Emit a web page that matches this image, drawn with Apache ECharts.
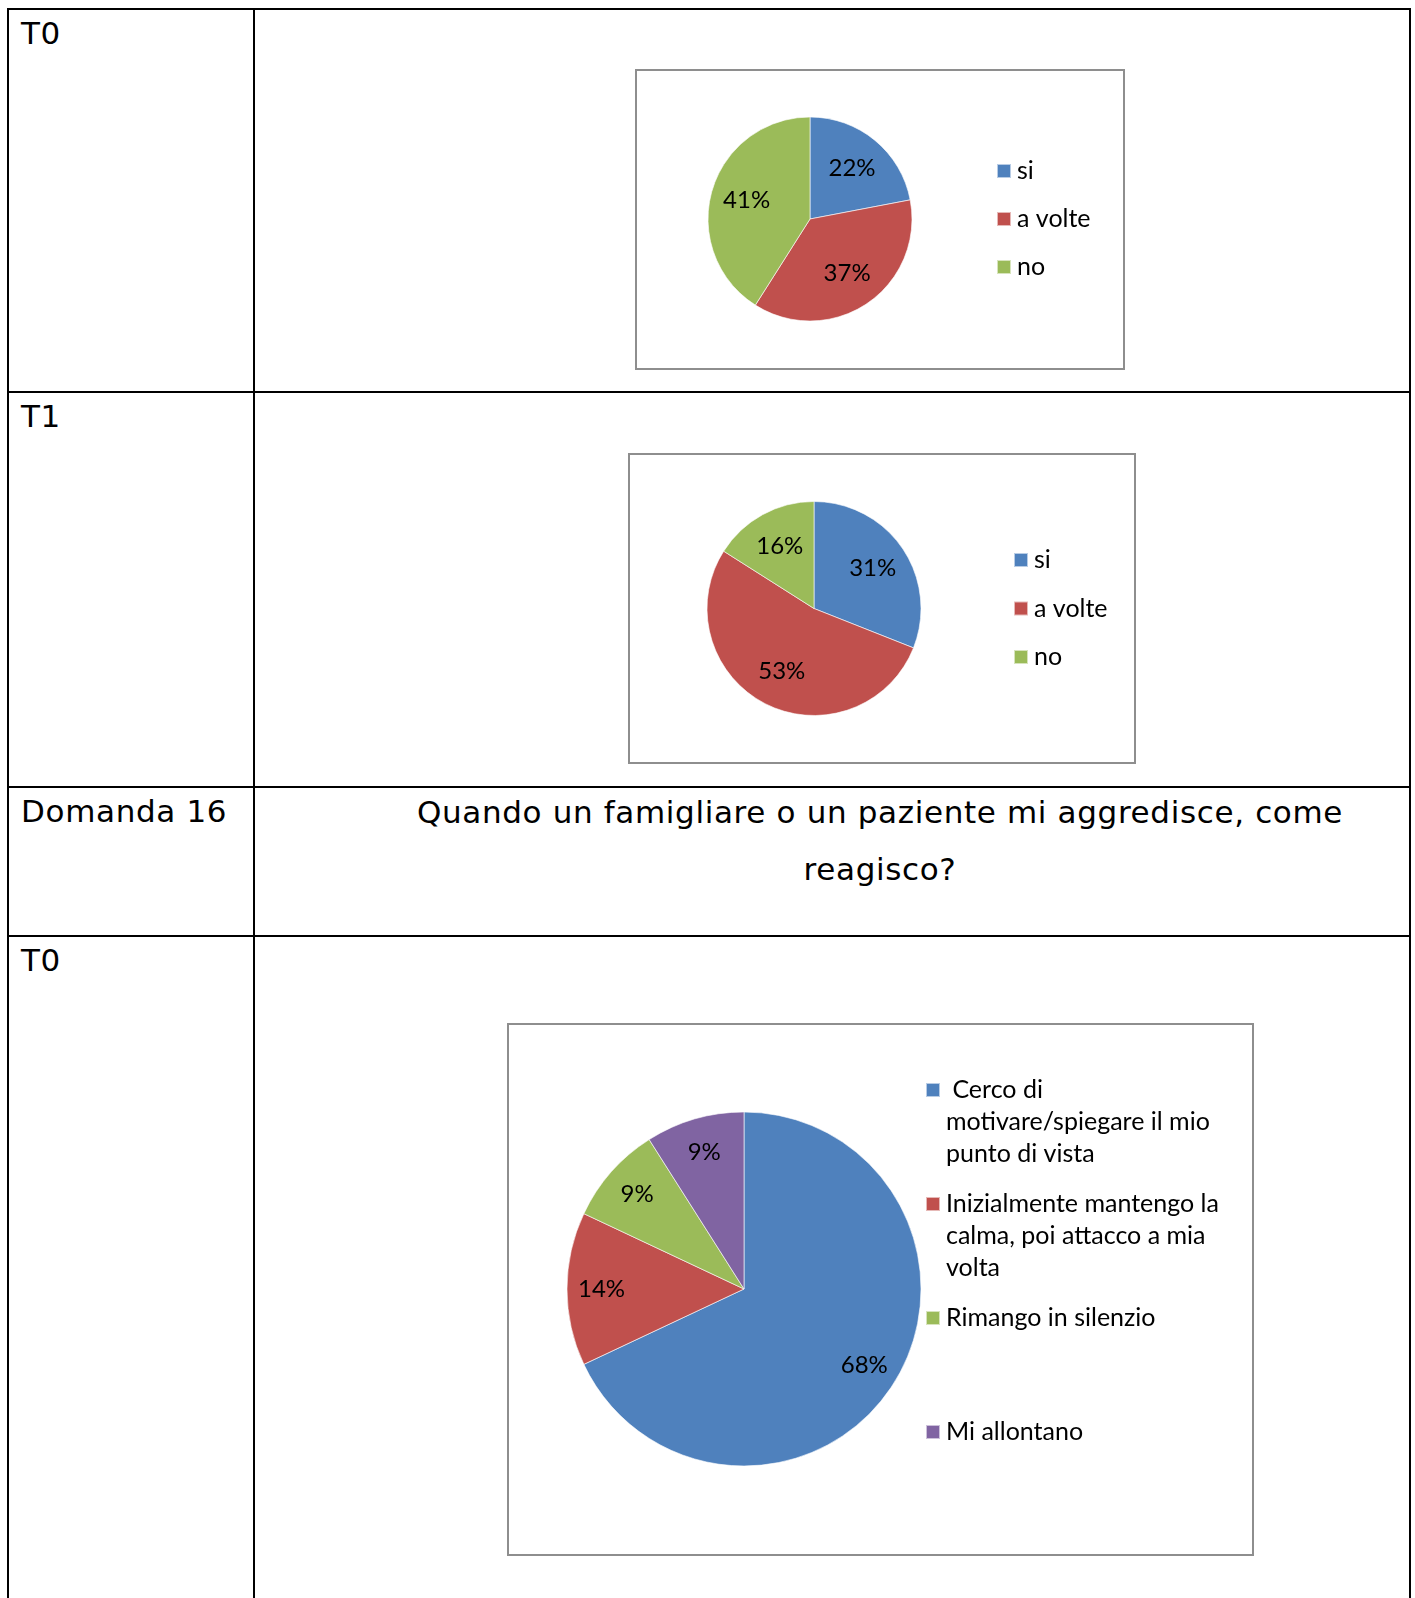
<!DOCTYPE html>
<html>
<head>
<meta charset="utf-8">
<title>Domanda 16</title>
<script src="https://cdn.jsdelivr.net/npm/echarts@6/dist/echarts.min.js"></script>
<style>
  body { margin: 0; background: #fff; }
  #page { position: relative; width: 1415px; height: 1598px; overflow: hidden; }
  .ln { position: absolute; background: #000; }
  .cell { position: absolute; font-family: "DejaVu Sans", Verdana, sans-serif; font-size: 31px; line-height: 31px; letter-spacing: 0.65px; color: #000; white-space: nowrap; }
  .question { text-align: center; line-height: 57px; }
  .chart { position: absolute; }
  .frame { position: absolute; border: 2px solid #8e8e8e; box-sizing: border-box; pointer-events: none; }
</style>
</head>
<body>
<div id="page">
  <!-- griglia della tabella -->
  <div class="ln" style="left:7px;top:8px;width:1404px;height:2px"></div>
  <div class="ln" style="left:7px;top:391px;width:1404px;height:2px"></div>
  <div class="ln" style="left:7px;top:786px;width:1404px;height:2px"></div>
  <div class="ln" style="left:7px;top:935px;width:1404px;height:2px"></div>
  <div class="ln" style="left:7px;top:8px;width:2px;height:1590px"></div>
  <div class="ln" style="left:253px;top:8px;width:2px;height:1590px"></div>
  <div class="ln" style="left:1409px;top:8px;width:2px;height:1590px"></div>

  <div class="cell" style="left:21px;top:18px">T0</div>
  <div class="cell" style="left:21px;top:401px">T1</div>
  <div class="cell" style="left:21px;top:796px">Domanda 16</div>
  <div class="cell question" style="left:380px;top:784px;width:1000px">Quando un famigliare o un paziente mi aggredisce, come<br>reagisco?</div>
  <div class="cell" style="left:21px;top:945px">T0</div>

  <!-- grafici -->
  <div id="c1" class="chart" style="left:635px;top:69px;width:490px;height:301px"></div>
  <div class="frame" style="left:635px;top:69px;width:490px;height:301px"></div>

  <div id="c2" class="chart" style="left:628px;top:453px;width:508px;height:311px"></div>
  <div class="frame" style="left:628px;top:453px;width:508px;height:311px"></div>

  <!-- il div del grafico parte 20px sopra la cornice per lasciare spazio alla legenda -->
  <div id="c3" class="chart" style="left:507px;top:1003px;width:747px;height:553px"></div>
  <div class="frame" style="left:507px;top:1023px;width:747px;height:533px"></div>
</div>
<script>
// colori Office
const colors = ['#4F81BD', '#C0504D', '#9BBB59', '#8064A2'];

// T0 (domanda precedente)
const t0Names = ['si', 'a volte', 'no'];
const t0Values = [22, 37, 41];

// T1 (domanda precedente)
const t1Names = ['si', 'a volte', 'no'];
const t1Values = [31, 53, 16];

// Domanda 16 - T0
const d16Names = [
  'Cerco di motivare/spiegare il mio punto di vista',
  'Inizialmente mantengo la calma, poi attacco a mia volta',
  'Rimango in silenzio',
  'Mi allontano'
];
const d16Values = [68, 14, 9, 9];
// testo della legenda come va a capo nell'originale
const d16LegendText = [
  ' Cerco di\nmotivare/spiegare il mio\npunto di vista',
  'Inizialmente mantengo la\ncalma, poi attacco a mia\nvolta',
  'Rimango in silenzio',
  'Mi allontano'
];

// il quadratino della legenda sta sulla prima riga (come in Excel):
// ogni voce diventa di 5 righe con 2 righe vuote sopra, cosi' il centro cade sulla prima
function padLegend(text) {
  let n = text.split('\n').length;
  return '\n\n' + text + '\n'.repeat(3 - n);
}

function drawPie(id, names, values, cfg) {
  let chart = echarts.init(document.getElementById(id));
  let data = names.map((n, i) => ({ name: n, value: values[i] }));
  let option = {
    animation: false,
    color: colors,
    legend: {
      orient: 'vertical',
      left: cfg.legendLeft,
      top: cfg.legendTop,
      padding: 0,
      icon: 'rect',
      itemWidth: 14,
      itemHeight: 14,
      itemGap: cfg.legendGap,
      selectedMode: false,
      data: names,
      formatter: function (name) {
        if (cfg.legendText) return padLegend(cfg.legendText[names.indexOf(name)]);
        return name;
      },
      textStyle: {
        fontFamily: 'Lato',
        fontSize: 25,
        color: '#000',
        lineHeight: cfg.lineHeight,
        padding: [0, 0, 0, 1]
      }
    },
    series: [
      {
        // le fette
        type: 'pie',
        center: cfg.center,
        radius: [0, cfg.r],
        startAngle: 90,
        silent: true,
        avoidLabelOverlap: false,
        data: data,
        label: { show: false },
        labelLine: { show: false },
        itemStyle: { borderColor: 'rgba(255,255,255,0.6)', borderWidth: 1 },
        emphasis: { disabled: true }
      },
      {
        // solo le etichette, spostate verso il bordo come in Excel
        type: 'pie',
        center: cfg.center,
        radius: [cfg.labelR0, cfg.r],
        startAngle: 90,
        silent: true,
        avoidLabelOverlap: false,
        data: data,
        itemStyle: { color: 'rgba(0,0,0,0)', borderWidth: 0 },
        label: {
          show: true,
          position: 'inner',
          formatter: '{c}%',
          fontFamily: 'Lato',
          fontSize: 24,
          color: '#000',
          textBorderWidth: 0
        },
        labelLine: { show: false },
        emphasis: { disabled: true }
      }
    ]
  };
  chart.setOption(option);
}

drawPie('c1', t0Names, t0Values, {
  center: [175, 150], r: 102, labelR0: 24,
  legendLeft: 361, legendTop: 87, legendGap: 18, lineHeight: 30
});
drawPie('c2', t1Names, t1Values, {
  center: [186, 155.5], r: 107, labelR0: 29,
  legendLeft: 385, legendTop: 92, legendGap: 18.5, lineHeight: 30
});
drawPie('c3', d16Names, d16Values, {
  center: [237, 286], r: 177, labelR0: 102,
  legendLeft: 418, legendTop: 7, legendGap: -46, lineHeight: 32,
  legendText: d16LegendText
});
</script>
</body>
</html>
